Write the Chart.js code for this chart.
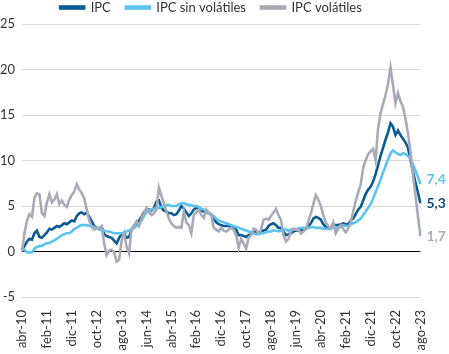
<!DOCTYPE html>
<html lang="es">
<head>
<meta charset="utf-8">
<title>IPC, IPC sin volátiles e IPC volátiles</title>
<script src="https://cdn.jsdelivr.net/npm/chart.js@4.4.0/dist/chart.umd.min.js"></script>
<style>
  html, body { margin: 0; padding: 0; background: #fff; }
  #caja { position: relative; width: 449px; height: 354px; }
</style>
</head>
<body>
<div id="caja"><canvas id="grafico"></canvas></div>
<script>
/* ---------- Datos: var. anual (%), mensual abr-10 .. ago-23 ---------- */
const MESES = ['ene', 'feb', 'mar', 'abr', 'may', 'jun', 'jul', 'ago', 'sep', 'oct', 'nov', 'dic'];
const categorias = [];
for (let k = 2010 * 12 + 3; k <= 2023 * 12 + 7; k++) {
  categorias.push(MESES[k % 12] + '-' + String(Math.floor(k / 12)).slice(2));
}

const ipc = [
  0.2, 0.6, 1.1, 1.4, 1.3, 2.0, 2.3, 1.6, 1.5, 1.8,
  2.1, 2.5, 2.4, 2.6, 2.8, 2.7, 2.9, 3.1, 3.0, 3.2,
  3.4, 3.3, 3.9, 4.2, 4.3, 4.1, 4.3, 3.8, 3.3, 2.8,
  2.6, 2.5, 2.7, 1.9, 1.7, 1.6, 1.5, 1.2, 0.9, 1.5,
  1.9, 2.0, 1.5, 1.6, 2.4, 2.8, 3.1, 3.4, 3.8, 4.3,
  4.6, 4.6, 4.5, 4.8, 5.5, 5.6, 4.8, 4.5, 4.4, 4.2,
  4.2, 4.0, 4.1, 4.5, 5.0, 4.7, 4.3, 3.9, 4.2, 4.6,
  4.8, 4.7, 4.5, 4.4, 4.3, 4.2, 4.1, 3.6, 3.2, 3.0,
  2.9, 2.8, 2.8, 2.8, 2.7, 2.6, 2.4, 1.8, 1.8, 1.7,
  1.6, 1.8, 1.9, 2.1, 2.2, 2.1, 2.2, 2.3, 2.4, 2.8,
  3.0, 3.1, 2.9, 2.6, 2.6, 2.2, 1.8, 1.9, 2.0, 2.2,
  2.3, 2.3, 2.4, 2.3, 2.5, 2.8, 3.1, 3.6, 3.8, 3.7,
  3.5, 3.0, 2.7, 2.5, 2.6, 3.0, 2.9, 2.9, 3.0, 3.1,
  3.0, 3.0, 3.4, 3.6, 4.1, 4.6, 4.9, 5.6, 6.3, 6.8,
  7.1, 7.7, 8.5, 9.5, 10.5, 11.4, 12.3, 13.1, 14.1, 13.7,
  12.8, 13.3, 12.8, 12.4, 12.0, 11.4, 10.1, 8.8, 7.6, 6.5,
  5.3
];

const ipcSinVolatiles = [
  0.2, 0.2, -0.1, -0.1, -0.1, 0.3, 0.5, 0.6, 0.6, 0.8,
  0.9, 0.9, 1.1, 1.2, 1.4, 1.6, 1.8, 1.9, 2.0, 2.0,
  2.2, 2.5, 2.6, 2.8, 2.9, 2.9, 2.9, 2.8, 2.8, 2.7,
  2.6, 2.4, 2.3, 2.3, 2.2, 2.2, 2.1, 2.0, 2.0, 2.0,
  2.0, 2.1, 2.2, 2.3, 2.4, 2.6, 2.8, 3.0, 3.4, 3.9,
  4.3, 4.5, 4.6, 4.7, 4.8, 4.8, 4.9, 5.0, 5.1, 5.1,
  5.0, 5.0, 5.0, 5.2, 5.3, 5.3, 5.2, 5.1, 5.1, 5.0,
  5.0, 4.9, 4.7, 4.6, 4.5, 4.3, 4.1, 3.9, 3.6, 3.4,
  3.3, 3.2, 3.1, 3.0, 2.9, 2.8, 2.7, 2.6, 2.5, 2.4,
  2.3, 2.2, 2.1, 2.0, 1.9, 1.9, 2.0, 2.0, 2.1, 2.2,
  2.2, 2.3, 2.3, 2.2, 2.3, 2.4, 2.4, 2.3, 2.4, 2.4,
  2.5, 2.5, 2.6, 2.6, 2.6, 2.6, 2.7, 2.7, 2.6, 2.6,
  2.6, 2.5, 2.5, 2.5, 2.6, 2.6, 2.6, 2.7, 2.7, 2.9,
  2.8, 2.8, 3.0, 3.1, 3.2, 3.4, 3.6, 4.0, 4.4, 4.8,
  5.2, 5.8, 6.5, 7.2, 7.9, 8.7, 9.4, 10.1, 10.8, 11.1,
  10.9, 10.7, 10.6, 10.8, 10.7, 10.5, 10.2, 9.6, 8.9, 8.2,
  7.4
];

const ipcVolatiles = [
  0.0, 2.0, 3.4, 4.1, 3.8, 5.9, 6.4, 6.3, 4.2, 3.9,
  5.4, 6.3, 5.4, 5.7, 6.3, 5.2, 5.6, 5.1, 4.9, 5.7,
  6.2, 6.6, 7.4, 6.8, 6.4, 5.8, 4.6, 3.4, 2.7, 2.4,
  2.5, 2.6, 2.8, 0.9, -0.4, 0.1, 0.2, -0.1, -1.1, -0.9,
  1.2, 2.0, 0.5, -0.2, 2.5, 2.9, 3.3, 2.8, 3.6, 4.2,
  4.8, 4.3, 4.0, 4.2, 4.6, 7.0, 6.1, 5.3, 4.4, 3.6,
  3.1, 2.8, 2.6, 2.7, 2.6, 4.4, 3.2, 2.9, 2.0, 4.0,
  4.3, 4.6, 4.0, 3.7, 4.6, 4.2, 4.0, 2.6, 2.4, 2.2,
  2.6, 2.3, 2.2, 2.4, 2.6, 2.4, 1.8, 0.4, 1.4, 0.9,
  0.3, 1.5, 1.8, 2.5, 2.4, 2.0, 2.4, 3.5, 3.6, 3.5,
  3.9, 4.3, 4.7, 4.0, 3.5, 1.8, 1.1, 1.4, 2.2, 2.5,
  2.4, 2.4, 2.0, 2.2, 2.5, 3.3, 4.2, 5.2, 6.2, 5.7,
  5.0, 4.0, 3.2, 2.8, 2.5, 3.2, 2.0, 2.5, 2.9, 2.5,
  2.1, 2.5, 3.2, 4.4, 5.5, 6.5, 7.3, 9.2, 10.0, 10.7,
  11.0, 11.3, 10.0, 13.5, 15.2, 16.2, 17.2, 18.4, 20.2, 18.3,
  16.3, 17.4, 16.5, 15.9, 14.6, 13.0, 11.0, 8.5, 6.2, 3.9,
  1.7
];

const nombresSeries = ['IPC', 'IPC sin volátiles', 'IPC volátiles'];
const ticksY = [-5, 0, 5, 10, 15, 20, 25];

/* ---------- Estilo ---------- */
const COLORES = ['#0a5a94', '#5bc3ef', '#a7abb8'];
const COLORES_ETIQ = ['#0b4a80', '#5bc3ef', '#a7abb8'];
const TEXTO = '#333333';
Chart.defaults.font.family = 'Lato, "Open Sans", sans-serif';
Chart.defaults.font.size = 13;
Chart.defaults.color = TEXTO;

// valor final de cada serie escrito a la derecha del area del grafico
const etiquetasFinales = {
  id: 'etiquetasFinales',
  afterDatasetsDraw(chart) {
    const ctx = chart.ctx;
    const ajusteY = [0, -5, 0]; // el 7,4 va un poco mas arriba para no pisar al 5,3
    ctx.save();
    ctx.font = 'bold 14px Lato, sans-serif';
    ctx.textBaseline = 'middle';
    ctx.textAlign = 'left';
    chart.data.datasets.forEach((ds, i) => {
      const meta = chart.getDatasetMeta(i);
      const pt = meta.data[meta.data.length - 1];
      const v = ds.data[ds.data.length - 1];
      ctx.fillStyle = COLORES_ETIQ[i];
      ctx.fillText(v.toFixed(1).replace('.', ','), chart.chartArea.right + 6, pt.y + ajusteY[i]);
    });
    ctx.restore();
  },
};

const series = [ipc, ipcSinVolatiles, ipcVolatiles];

new Chart(document.getElementById('grafico'), {
  type: 'line',
  data: {
    labels: categorias,
    datasets: series.map((d, i) => ({
      label: nombresSeries[i],
      data: d,
      borderColor: COLORES[i],
      backgroundColor: COLORES[i],
      borderWidth: 2.6,
      pointRadius: 0,
      tension: 0,
      fill: false,
      order: 3 - i, // como en Excel: la ultima serie queda encima
    })),
  },
  options: {
    responsive: true,
    maintainAspectRatio: false,
    animation: false,
    layout: { padding: { left: 0, right: 27, top: -14, bottom: 0 } },
    plugins: {
      legend: {
        position: 'top',
        labels: {
          boxWidth: 24,
          boxHeight: 2,
          padding: 15,
          color: TEXTO,
          sort: (a, b) => a.datasetIndex - b.datasetIndex,
        },
      },
      tooltip: { enabled: false },
    },
    scales: {
      x: {
        grid: { display: false, drawTicks: false },
        border: { display: false },
        ticks: {
          autoSkip: false,
          maxRotation: 90,
          minRotation: 90,
          padding: 13,
          color: TEXTO,
          callback: (v, i) => (i % 10 === 0 ? categorias[i] : null),
        },
        afterFit: s => { s.height = 57; },
      },
      y: {
        min: ticksY[0],
        max: ticksY[ticksY.length - 1],
        afterBuildTicks: s => { s.ticks = ticksY.map(v => ({ value: v })); },
        ticks: { padding: 7, color: TEXTO },
        grid: {
          drawTicks: false,
          color: c => (c.tick && c.tick.value === 0 ? '#000000' : '#d9d9d9'),
        },
        border: { display: false },
        afterFit: s => { s.width = 22; },
      },
    },
  },
  plugins: [etiquetasFinales],
});
</script>
</body>
</html>
